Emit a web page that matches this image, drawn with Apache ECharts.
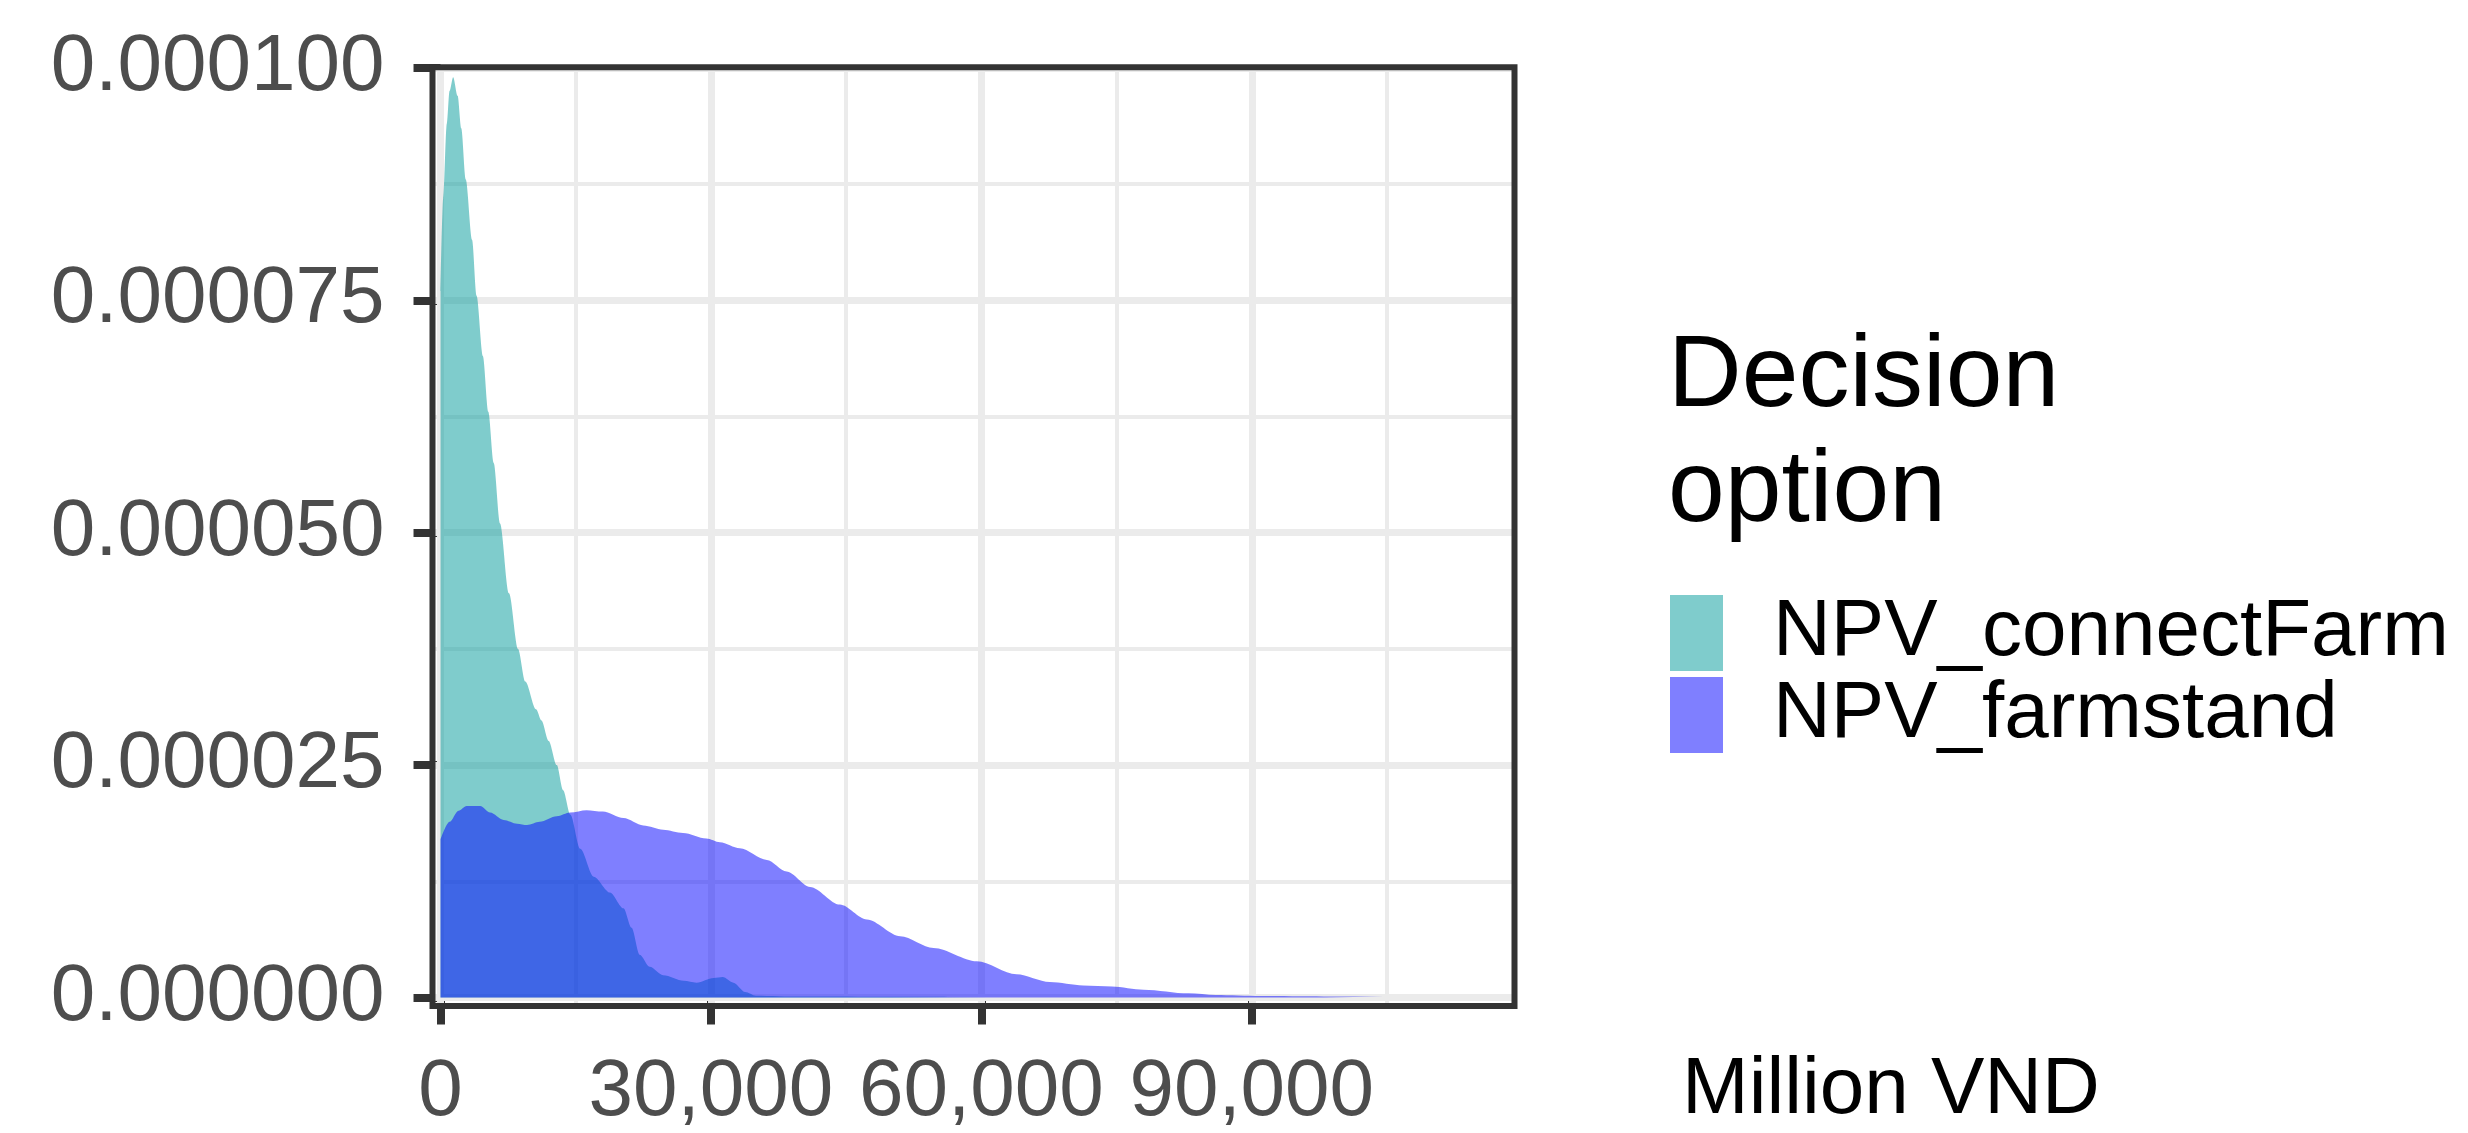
<!DOCTYPE html>
<html><head><meta charset="utf-8">
<script src="https://cdn.jsdelivr.net/npm/echarts@6/dist/echarts.min.js"></script>
<style>html,body{margin:0;padding:0;background:#fff}#c{width:2468px;height:1133px}</style>
</head><body><div id="c"></div>
<script>
// ---- data ----
const seriesNames = ['NPV_connectFarm', 'NPV_farmstand'];
const legendTitle = 'Decision\noption';
const xAxisTitle = 'Million VND';

const connectFarmX = [0, 300, 700, 1000, 1400, 1900, 2300, 2800, 3500, 4000, 4700, 5300, 5900, 6600, 7600, 8600, 9400, 10600, 11200, 12000, 12900, 13600, 14400, 15500, 17000, 18800, 20300, 21200, 22100, 23200, 24700, 27000, 28400, 30300, 31300, 32500, 33800, 35000, 40000, 50000, 61000];
const connectFarmY = [76e-6, 86e-6, 94e-6, 97.5e-6, 99e-6, 97e-6, 93.5e-6, 88e-6, 81.5e-6, 75.5e-6, 69e-6, 63e-6, 57.5e-6, 51e-6, 43.5e-6, 37.5e-6, 34e-6, 31e-6, 29.8e-6, 27.6e-6, 25e-6, 22.3e-6, 19.7e-6, 16e-6, 13e-6, 11.3e-6, 9.6e-6, 7.5e-6, 4.6e-6, 3.3e-6, 2.4e-6, 1.8e-6, 1.6e-6, 2.1e-6, 2.2e-6, 1.6e-6, 0.6e-6, 0.2e-6, 0.1e-6, 0.08e-6, 0.05e-6];

const farmstandX = [0, 1000, 2000, 2900, 4400, 5500, 7000, 8500, 9600, 11000, 12900, 14400, 16200, 18000, 20300, 22500, 24700, 26900, 29500, 31000, 33200, 36200, 38400, 41000, 44300, 47300, 51000, 54700, 59500, 63900, 67600, 71300, 74500, 78000, 83000, 86000, 91000, 98000, 104600];
const farmstandY = [17e-6, 18.9e-6, 20.1e-6, 20.6e-6, 20.6e-6, 19.9e-6, 19.1e-6, 18.7e-6, 18.55e-6, 18.9e-6, 19.5e-6, 19.9e-6, 20.15e-6, 20.0e-6, 19.3e-6, 18.5e-6, 18.05e-6, 17.7e-6, 17.1e-6, 16.7e-6, 16.05e-6, 14.8e-6, 13.55e-6, 11.9e-6, 10.0e-6, 8.4e-6, 6.6e-6, 5.33e-6, 3.9e-6, 2.5e-6, 1.66e-6, 1.3e-6, 1.2e-6, 0.85e-6, 0.45e-6, 0.27e-6, 0.16e-6, 0.12e-6, 0.1e-6];

const xTicks = [0, 30000, 60000, 90000];
const xMinor = [15000, 45000, 75000, 105000];
const yTicks = [0, 0.000025, 0.00005, 0.000075, 0.0001];
const yMinor = [0.0000125, 0.0000375, 0.0000625, 0.0000875];
const xLimits = [-890, 119150];
const yLimits = [-0.00000091, 0.00010006];

// ---- style ----
const FONT = 'Liberation Sans, Arial, sans-serif';
const teal = 'rgba(0,153,153,0.5)';
const blue = 'rgba(0,0,255,0.5)';
const gridCol = '#EBEBEB';
const ink = '#333333';

const zip = (xs, ys) => xs.map((x, i) => [x, ys[i]]);
const vLines = vals => vals.map(v => ({ coords: [[v, yLimits[0]], [v, yLimits[1]]] }));
const hLines = vals => vals.map(v => ({ coords: [[xLimits[0], v], [xLimits[1], v]] }));

const chart = echarts.init(document.getElementById('c'), null, { renderer: 'canvas' });
chart.setOption({
  backgroundColor: '#ffffff',
  animation: false,
  textStyle: { fontFamily: FONT },
  grid: {
    left: 432.5, right: 953.5, top: 67.3, bottom: 123,
    show: true, borderWidth: 6, borderColor: ink, backgroundColor: 'transparent', z: 10
  },
  title: [
    { text: legendTitle, left: 1668, top: 320, padding: 0,
      textStyle: { fontSize: 102, fontWeight: 'normal', color: '#000', lineHeight: 115, fontFamily: FONT } },
    { text: xAxisTitle, left: 1682, top: 1051, padding: 0,
      textStyle: { fontSize: 80, fontWeight: 'normal', color: '#000', lineHeight: 80, fontFamily: FONT } }
  ],
  legend: {
    data: seriesNames, orient: 'vertical', left: 1670, top: 593, padding: 0,
    icon: 'rect', itemWidth: 53, itemHeight: 76, itemGap: 2, selectedMode: false,
    itemStyle: { borderWidth: 0 },
    textStyle: { fontSize: 80, color: '#000', fontFamily: FONT, lineHeight: 76, padding: [0, 0, 0, 45] }
  },
  xAxis: {
    type: 'value', min: xLimits[0], max: xLimits[1],
    axisLine: { show: false },
    splitLine: { show: false },
    axisTick: { show: true, customValues: xTicks, length: 27, lineStyle: { color: ink, width: 8 } },
    axisLabel: { customValues: xTicks, margin: 47, fontSize: 80, color: '#4D4D4D', fontFamily: FONT,
      formatter: v => Number(v).toLocaleString('en-US') }
  },
  yAxis: {
    type: 'value', min: yLimits[0], max: yLimits[1],
    axisLine: { show: false },
    splitLine: { show: false },
    axisTick: { show: true, customValues: yTicks, length: 27, lineStyle: { color: ink, width: 8 } },
    axisLabel: { customValues: yTicks, margin: 48, fontSize: 80, color: '#4D4D4D', fontFamily: FONT,
      formatter: v => Number(v).toFixed(6) }
  },
  series: [
    { type: 'lines', coordinateSystem: 'cartesian2d', z: 1, zlevel: 0, silent: true, polyline: false,
      lineStyle: { color: gridCol, width: 4, opacity: 1 }, effect: { show: false },
      data: vLines(xMinor).concat(hLines(yMinor)) },
    { type: 'lines', coordinateSystem: 'cartesian2d', z: 1, zlevel: 0, silent: true, polyline: false,
      lineStyle: { color: gridCol, width: 7, opacity: 1 }, effect: { show: false },
      data: vLines(xTicks).concat(hLines(yTicks)) },
    { type: 'line', name: seriesNames[0], data: zip(connectFarmX, connectFarmY), z: 2,
      symbol: 'none', showSymbol: false, smooth: 0.3, smoothMonotone: 'x', lineStyle: { opacity: 0, width: 0 },
      itemStyle: { color: teal }, areaStyle: { color: teal, opacity: 1 } },
    { type: 'line', name: seriesNames[1], data: zip(farmstandX, farmstandY), z: 3,
      symbol: 'none', showSymbol: false, smooth: 0.3, smoothMonotone: 'x', lineStyle: { opacity: 0, width: 0 },
      itemStyle: { color: blue }, areaStyle: { color: blue, opacity: 1 } }
  ]
});
</script></body></html>
